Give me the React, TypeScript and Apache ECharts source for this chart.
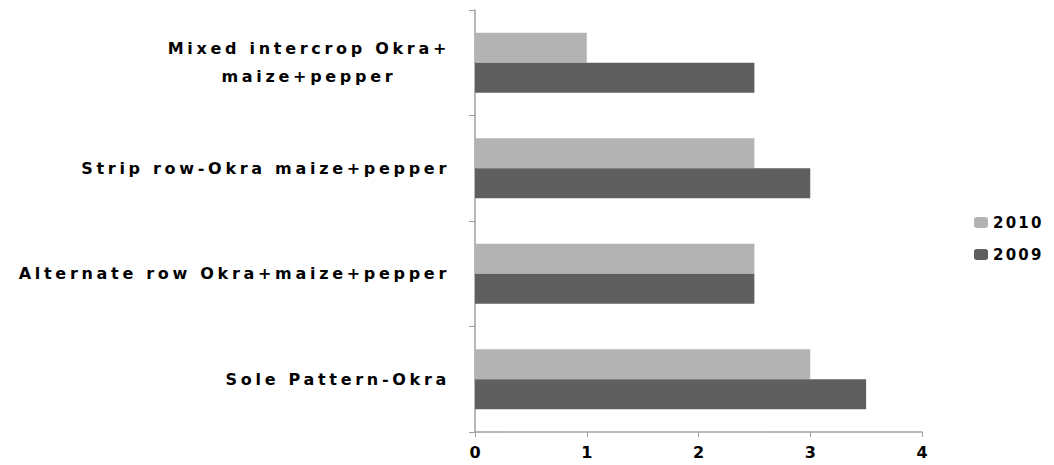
import React, { useEffect, useRef } from "react";
import * as echarts from "echarts";

const categories = [
  "Sole Pattern-Okra",
  "Alternate row Okra+maize+pepper",
  "Strip row-Okra maize+pepper",
  "Mixed intercrop Okra+\nmaize+pepper",
];
const seriesNames = ["2010", "2009"];
const values2010 = [3, 2.5, 2.5, 1];
const values2009 = [3.5, 2.5, 3, 2.5];
const xTicks = [0, 1, 2, 3, 4];

const FONT = "DejaVu Sans";
const LABEL_SIZE = 16;
const LABEL_SPACING = 3.7;
const LEGEND_SPACING = 2.2;

function measure(text: string): number {
  const c = document.createElement("canvas").getContext("2d");
  if (!c) return text.length * 10;
  c.font = `bold ${LABEL_SIZE}px "${FONT}"`;
  return c.measureText(text).width + text.length * LABEL_SPACING;
}

export default function App() {
  const ref = useRef<HTMLDivElement>(null);
  useEffect(() => {
    if (!ref.current) return;
    const chart = echarts.init(ref.current, undefined, { renderer: "svg" });
    const labelLines = new Set<string>();
    categories.forEach((c) => c.split("\n").forEach((l) => labelLines.add(l)));
    const multi = categories[3].split("\n");
    const pad = Math.max(0, (measure(multi[0]) - measure(multi[1])) / 2);
    chart.setOption({
      animation: false,
      backgroundColor: "#ffffff",
      grid: { left: 475, right: 132, top: 10, bottom: 33, containLabel: false },
      legend: {
        orient: "vertical",
        left: 969,
        top: 210,
        itemWidth: 14,
        itemHeight: 11,
        itemGap: 17,
        itemStyle: { borderWidth: 0 },
        data: seriesNames,
        textStyle: { fontFamily: FONT, fontWeight: "bold", fontSize: 15, color: "#000" },
      },
      xAxis: {
        type: "value",
        min: xTicks[0],
        max: xTicks[xTicks.length - 1],
        interval: 1,
        splitLine: { show: false },
        axisLine: { show: true, lineStyle: { color: "#a0a0a0", width: 1.5 } },
        axisTick: { show: true, length: 5, lineStyle: { color: "#a0a0a0" } },
        axisLabel: {
          margin: 12,
          fontFamily: FONT,
          fontWeight: "bold",
          fontSize: 16,
          color: "#000",
        },
      },
      yAxis: {
        type: "category",
        data: categories,
        axisLine: { show: true, lineStyle: { color: "#a0a0a0", width: 1.5 } },
        axisTick: { show: true, length: 6, lineStyle: { color: "#a0a0a0" } },
        axisLabel: {
          margin: 25,
          fontFamily: FONT,
          fontWeight: "bold",
          fontSize: LABEL_SIZE,
          color: "#000",
          lineHeight: 28,
          formatter: (v: string) => {
            const lines = v.split("\n");
            if (lines.length < 2) return v;
            return `{a|${lines[0]}}\n{b|${lines[1]}}`;
          },
          rich: {
            a: {
              fontFamily: FONT,
              fontWeight: "bold",
              fontSize: LABEL_SIZE,
              color: "#000",
              lineHeight: 28,
            },
            b: {
              fontFamily: FONT,
              fontWeight: "bold",
              fontSize: LABEL_SIZE,
              color: "#000",
              lineHeight: 28,
              padding: [0, pad, 0, 0],
            },
          },
        },
      },
      series: [
        {
          name: seriesNames[0],
          type: "bar",
          data: values2010,
          barWidth: 30,
          barGap: "0%",
          itemStyle: { color: "#b3b3b3" },
        },
        {
          name: seriesNames[1],
          type: "bar",
          data: values2009,
          barWidth: 30,
          barGap: "0%",
          itemStyle: { color: "#5f5f5f" },
        },
      ],
    });
    const applySpacing = () => {
      if (!ref.current) return;
      ref.current.querySelectorAll("text").forEach((t) => {
        const s = (t.textContent || "").trim();
        if (labelLines.has(s)) {
          t.setAttribute("letter-spacing", String(LABEL_SPACING));
          (t as SVGTextElement).style.letterSpacing = LABEL_SPACING + "px";
        } else if (seriesNames.includes(s)) {
          t.setAttribute("letter-spacing", String(LEGEND_SPACING));
          (t as SVGTextElement).style.letterSpacing = LEGEND_SPACING + "px";
        }
      });
    };
    applySpacing();
    chart.on("finished", applySpacing);
    return () => chart.dispose();
  }, []);
  return (
    <div
      ref={ref}
      style={{ position: "fixed", left: 0, top: 0, width: 1054, height: 465, background: "#fff" }}
    />
  );
}
